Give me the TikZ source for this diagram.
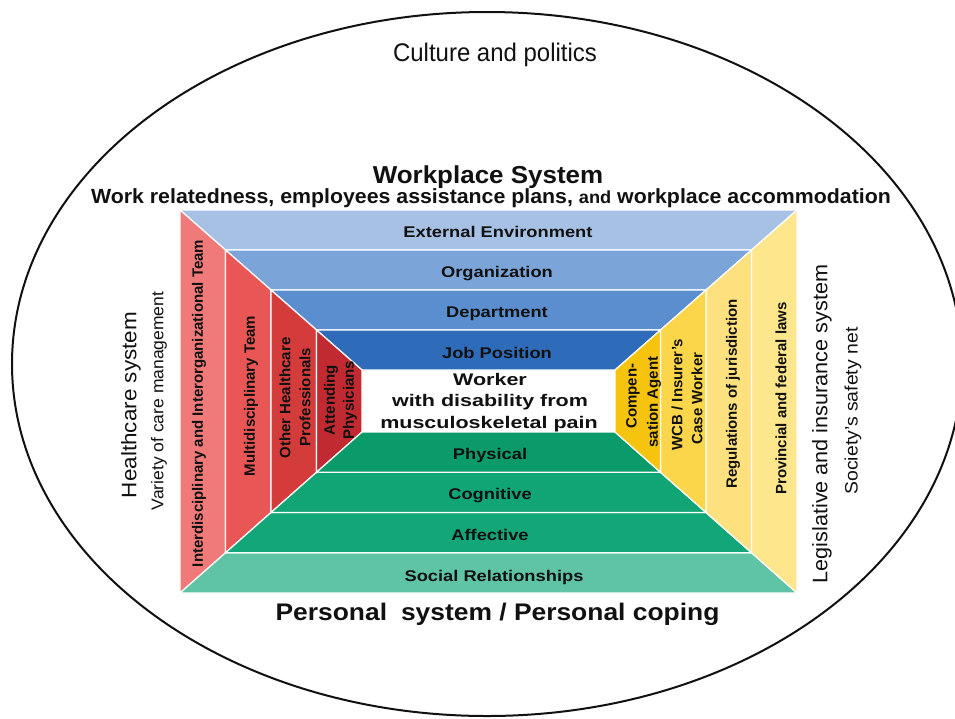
\documentclass[tikz,border=0pt]{standalone}
\usepackage{fontspec}
\setmainfont{Liberation Sans}
\usepackage{graphicx}
\newcommand\hsc[2]{\scalebox{#1}[1]{#2}}
\definecolor{top0}{HTML}{A7C1E4}
\definecolor{top1}{HTML}{7BA4D8}
\definecolor{top2}{HTML}{5A8ECF}
\definecolor{top3}{HTML}{2E6BB9}
\definecolor{lft0}{HTML}{F07A7A}
\definecolor{lft1}{HTML}{E85656}
\definecolor{lft2}{HTML}{D43B3B}
\definecolor{lft3}{HTML}{C12A30}
\definecolor{bot0}{HTML}{5EC4A5}
\definecolor{bot1}{HTML}{13A678}
\definecolor{bot2}{HTML}{11A475}
\definecolor{bot3}{HTML}{0B9A69}
\definecolor{rgt0}{HTML}{FDE68C}
\definecolor{rgt1}{HTML}{FDE17E}
\definecolor{rgt2}{HTML}{FBD64A}
\definecolor{rgt3}{HTML}{F6C40F}
\definecolor{ink}{HTML}{111111}
\tikzset{
  band/.style={draw=white, line width=1.2pt},
  blab/.style={anchor=base, inner sep=0pt, text=ink, font=\bfseries\fontsize{15.5}{16}\selectfont},
  wlab/.style={anchor=base, inner sep=0pt, text=ink, font=\bfseries\fontsize{16.8}{17}\selectfont},
  slab/.style={rotate=90, inner sep=0pt, text=ink, font=\bfseries\fontsize{15}{16}\selectfont},
  outbig/.style={rotate=90, inner sep=0pt, text=ink, font=\fontsize{21}{22}\selectfont},
  outsmall/.style={rotate=90, inner sep=0pt, text=ink, font=\fontsize{17}{18}\selectfont},
  title/.style={anchor=base, inner sep=0pt, text=ink},
}
\begin{document}
\begin{tikzpicture}[x=1pt,y=-1pt]
\useasboundingbox (0,0) rectangle (955,718);
\fill[white] (0,0) rectangle (955,718);
\clip (0,0) rectangle (955,718);
% corner coordinates
\foreach \k in {0,...,4}{
  \coordinate (tl\k) at ({180+45.5*\k},{210+40*\k});
  \coordinate (tr\k) at ({797-45.5*\k},{210+40*\k});
  \coordinate (bl\k) at ({180+45.5*\k},{593-40.25*\k});
  \coordinate (br\k) at ({797-45.5*\k},{593-40.25*\k});
}
% bands
\foreach \k in {0,...,3}{
  \pgfmathtruncatemacro\n{\k+1}
  \filldraw[band, fill=top\k] (tl\k) -- (tr\k) -- (tr\n) -- (tl\n) -- cycle;
  \filldraw[band, fill=lft\k] (tl\k) -- (tl\n) -- (bl\n) -- (bl\k) -- cycle;
  \filldraw[band, fill=bot\k] (bl\k) -- (br\k) -- (br\n) -- (bl\n) -- cycle;
  \filldraw[band, fill=rgt\k] (tr\k) -- (br\k) -- (br\n) -- (tr\n) -- cycle;
}
% outer ellipse
\draw[line width=2pt, ink] (487,364) ellipse [x radius=475, y radius=352];
% titles
\node[title, font=\fontsize{25.5}{26}\selectfont] (culture) at (495,61.5) {\hsc{0.94}{Culture and politics}};
\node[title, font=\bfseries\fontsize{24.5}{25}\selectfont] (workplace) at (488,183.5) {\hsc{1.06}{Workplace System}};
\node[title, font=\bfseries\fontsize{20.5}{21}\selectfont] (worksub) at (491,203) {\hsc{1.04}{Work relatedness, employees assistance plans, {\fontsize{17.5}{18}\selectfont and} workplace accommodation}};
\node[title, font=\bfseries\fontsize{24}{25}\selectfont] (personal) at (497.5,620) {\hsc{1.1}{Personal\hspace{0.25em} system / Personal coping}};
% band labels
\node[blab] (extenv) at (498,237.5) {\hsc{1.18}{External Environment}};
\node[blab] (org) at (497,277) {\hsc{1.18}{Organization}};
\node[blab] (dept) at (497,317.5) {\hsc{1.18}{Department}};
\node[blab] (job) at (497,358) {\hsc{1.18}{Job Position}};
\node[blab] (phys) at (490,459.5) {\hsc{1.18}{Physical}};
\node[blab] (cogn) at (490,499.5) {\hsc{1.18}{Cognitive}};
\node[blab] (affe) at (490,540.5) {\hsc{1.18}{Affective}};
\node[blab] (social) at (494,581.5) {\hsc{1.18}{Social Relationships}};
% worker
\node[wlab] (worker1) at (490,385) {\hsc{1.28}{Worker}};
\node[wlab] (worker2) at (490,406.5) {\hsc{1.28}{with disability from}};
\node[wlab] (worker3) at (489,428) {\hsc{1.28}{musculoskeletal pain}};
% left side labels
\node[slab] (interd) at (199,403.5) {\hsc{1.0}{Interdisciplinary and Interorganizational Team}};
\node[slab] (multi) at (251,396) {\hsc{1.0}{Multidisciplinary Team}};
\node[slab] (otherhc) at (285,398) {\hsc{1.0}{Other Healthcare}};
\node[slab] (prof) at (305,397) {\hsc{1.0}{Professionals}};
\node[slab] (attend) at (331,400) {\hsc{1.0}{Attending}};
\node[slab] (physic) at (350,400) {\hsc{1.0}{Physicians}};
% right side labels
\node[slab] (compen) at (633,396) {\hsc{1.0}{Compen-}};
\node[slab] (sation) at (654,402) {\hsc{1.0}{sation Agent}};
\node[slab] (wcb) at (677,394.5) {\hsc{1.0}{WCB / Insurer’s}};
\node[slab] (casew) at (697,398.5) {\hsc{1.0}{Case Worker}};
\node[slab] (regul) at (733,394) {\hsc{1.0}{Regulations of jurisdiction}};
\node[slab] (provin) at (781,398.5) {\hsc{1.0}{Provincial and federal laws}};
% outside side labels
\node[outbig] (health) at (131,405) {\hsc{1.07}{Healthcare system}};
\node[outsmall] (variety) at (159,401) {\hsc{1.03}{Variety of care management}};
\node[outbig] (legis) at (822,424) {\hsc{1.03}{Legislative and insurance system}};
\node[outsmall, font=\fontsize{18}{19}\selectfont] (society) at (853,411) {\hsc{1.08}{Society’s safety net}};
\end{tikzpicture}
\end{document}
